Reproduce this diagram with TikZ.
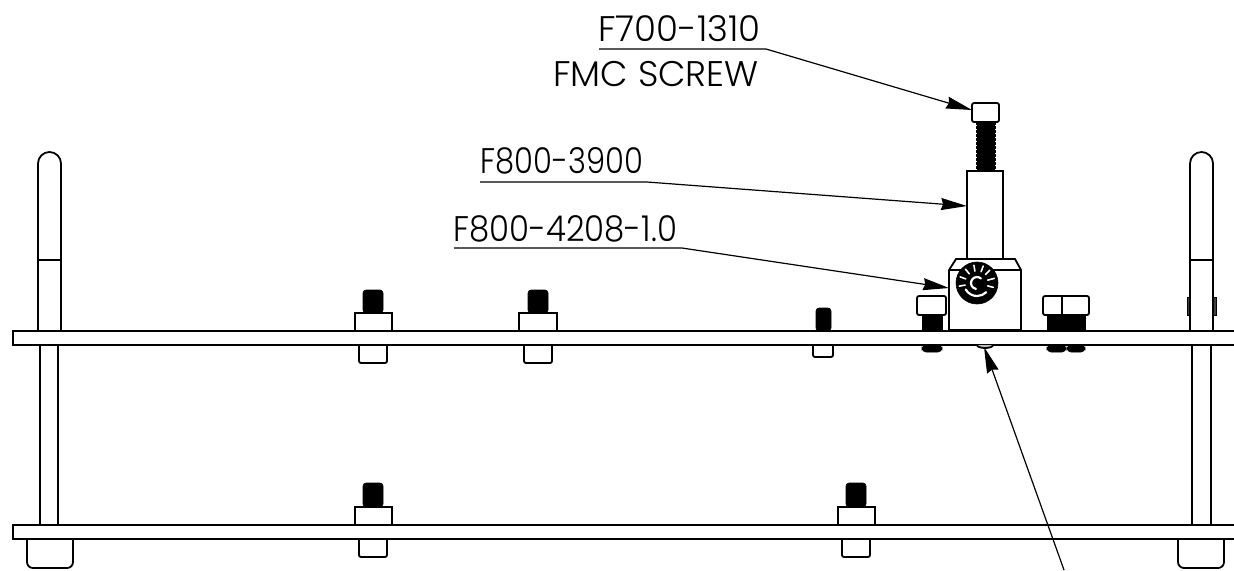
\documentclass[tikz,border=0pt]{standalone}
\usepackage{fontspec}
\setmainfont{Poppins}[UprightFont=* Light]
\usetikzlibrary{arrows.meta}
\tikzset{
	part/.style={draw=black,line width=0.9pt,fill=white},
	edge/.style={draw=black,line width=0.9pt},
	thread/.style={fill=black,draw=black,line width=0.3pt},
	teeth/.style={draw=black,line width=1pt,dash pattern=on 1.4pt off 0.6pt},
	leader/.style={draw=black,line width=0.6pt,-{Stealth[length=13pt,width=6pt,inset=1pt]}},
	callout/.style={anchor=base west,inner sep=0pt,font=\fontsize{17.8pt}{20pt}\selectfont},
}
\begin{document}
\begin{tikzpicture}[x=0.5pt,y=-0.5pt]
	\useasboundingbox (0,0) rectangle (1234,570);
	\def\r{11.5};
	\coordinate (S1) at (599,49);
	\coordinate (S2) at (766,49);
	\coordinate (S3) at (972,110);
	\coordinate (T1) at (480,182);
	\coordinate (T2) at (647,182);
	\coordinate (T3) at (967,206);
	\coordinate (B1) at (454,248);
	\coordinate (B2) at (682,248);
	\coordinate (B3) at (949,288);
	\coordinate (D1) at (1064,570);
	\coordinate (D2) at (984,347);
	\coordinate (K) at (977,283);
	\node[callout] (screwno) at (598,41) {F700-1310};
	\node[callout] (screwname) at (553,86) {FMC SCREW};
	\node[callout,xscale=0.86] (standoff) at (480,173) {F800-3900};
	\node[callout,xscale=0.91] (block) at (453,241) {F800-4208-1.0};
	\draw[edge] (1234,331) -- (13,331) -- (13,345) -- (1234,345);
	\draw[edge] (1234,525) -- (13,525) -- (13,539) -- (1234,539);
	\draw[edge] (38,331) -- (38,163.5) arc [start angle=180,end angle=360,radius=\r] -- (61,331);
	\draw[edge,line width=1.3pt] (38,260) -- (61,260);
	\draw[edge] (40,345) -- (40,525);
	\draw[edge] (58,345) -- (58,525);
	\draw[edge,rounded corners=3pt] (27,539) -- (27,568) -- (73,568) -- (73,539);
	\draw[edge] (1190,331) -- (1190,163.5) arc [start angle=180,end angle=360,radius=\r] -- (1213,331);
	\draw[edge,line width=1.3pt] (1190,260) -- (1213,260);
	\draw[edge] (1192,345) -- (1192,525);
	\draw[edge] (1211,345) -- (1211,525);
	\draw[edge,rounded corners=3pt] (1178,539) -- (1178,568) -- (1224,568) -- (1224,539);
	\draw[thread,fill=darkgray] (1187,297) rectangle (1189.5,315);
	\draw[thread,fill=darkgray] (1213.5,297) rectangle (1216,315);
	\draw[thread,rounded corners=1.5pt] (363,313) -- (363,290) -- (383,290) -- (383,313) -- cycle;
	\draw[edge] (355,331) -- (355,313) -- (392,313) -- (392,331);
	\draw[edge,rounded corners=1pt] (359,345) -- (359,363) -- (387,363) -- (387,345);
	\draw[thread,rounded corners=1.5pt] (528,313) -- (528,290) -- (548,290) -- (548,313) -- cycle;
	\draw[edge] (519,331) -- (519,313) -- (557,313) -- (557,331);
	\draw[edge,rounded corners=1pt] (524,345) -- (524,363) -- (552,363) -- (552,345);
	\draw[thread,rounded corners=1.5pt] (816,331) -- (816,308) -- (831,308) -- (831,331) -- cycle;
	\draw[edge,rounded corners=1pt] (813,345) -- (813,357) -- (833,357) -- (833,345);
	\draw[thread,rounded corners=1.5pt] (363,507) -- (363,483) -- (383,483) -- (383,507) -- cycle;
	\draw[edge] (355,525) -- (355,507) -- (392,507) -- (392,525);
	\draw[edge,rounded corners=1pt] (359,539) -- (359,557) -- (387,557) -- (387,539);
	\draw[thread,rounded corners=1.5pt] (846,507) -- (846,483) -- (866,483) -- (866,507) -- cycle;
	\draw[edge] (838,525) -- (838,507) -- (875,507) -- (875,525);
	\draw[edge,rounded corners=1pt] (842,539) -- (842,557) -- (870,557) -- (870,539);
	\draw[thread] (977,122) rectangle (994,171);
	\draw[teeth] (976.5,122) -- (976.5,171);
	\draw[teeth] (994.5,122) -- (994.5,171);
	\draw[part,rounded corners=1pt] (972,103) rectangle (999,122);
	\draw[part] (967,260) -- (967,171) -- (1003,171) -- (1003,260);
	\draw[edge,line width=1.3pt] (967,171) -- (1003,171);
	\draw[part] (949,330) -- (949,270) -- (956,259) -- (1015,259) -- (1021,270) -- (1021,330);
	\draw[edge] (949,270) -- (1021,270);
	\draw[edge,line width=1.3pt] (949,330) -- (1021,330);
	\draw[thread] (K) circle [radius=21];
	\begin{scope}[shift={(K)}]
		\draw[white,line width=0.8pt,line cap=round] (15:11) -- (15:17) (-15:11) -- (-15:18) (-45:12) -- (-45:18) (-70:12) -- (-70:18) (-100:12) -- (-100:18) (-130:12) -- (-130:18) (-160:12) -- (-160:18) (170:12) -- (170:18);
		\draw[white,line width=1.1pt,line cap=round] (150:13) arc [start angle=150,end angle=45,radius=13];
		\draw[white,line width=1.1pt,line cap=round] (-50:6) arc [start angle=-50,end angle=-260,radius=6];
	\end{scope}
	\draw[thread] (922,315) rectangle (942,331);
	\draw[thread,rounded corners=2pt] (922,345) -- (942,345) -- (942,352) -- (922,352) -- cycle;
	\draw[part,rounded corners=1pt] (917,296) rectangle (946,315);
	\draw[thread] (1047,315) rectangle (1085,331);
	\draw[thread,rounded corners=2pt] (1047,345) -- (1066,345) -- (1066,352) -- (1047,352) -- cycle;
	\draw[thread,rounded corners=2pt] (1067,345) -- (1085,345) -- (1085,352) -- (1067,352) -- cycle;
	\draw[part,rounded corners=1pt] (1043,296) rectangle (1089,315);
	\draw[edge] (1062,296) -- (1062,315);
	\draw[edge,fill=lightgray] (977,345) arc [start angle=180,end angle=0,x radius=8,y radius=3];
	\draw[leader] (S1) -- (S2) -- (S3);
	\draw[leader] (T1) -- (T2) -- (T3);
	\draw[leader] (B1) -- (B2) -- (B3);
	\draw[leader] (D1) -- (D2);
\end{tikzpicture}
\end{document}
